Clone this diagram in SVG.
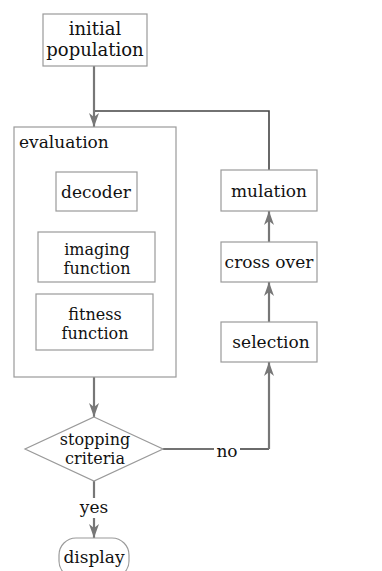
<svg xmlns="http://www.w3.org/2000/svg" width="382" height="571" viewBox="0 0 382 571">
<defs>
<style>
.box{fill:#fff;stroke:#9a9a9a;stroke-width:1.2}
.t{font-family:"DejaVu Serif","Liberation Serif",serif;font-size:17px;fill:#111;text-anchor:middle}
.t2{font-size:16px}
.arr{fill:none;stroke:#777;stroke-width:2.2}
.fb{fill:none;stroke:#444;stroke-width:1.6}
</style>
<marker id="ah" markerUnits="userSpaceOnUse" markerWidth="14" markerHeight="10" refX="14" refY="5" orient="auto">
<path d="M0,0 L14,5 L0,10 L4,5 z" fill="#777"/>
</marker>
</defs>
<rect width="382" height="571" fill="#fff"/>
<g id="connectors">
<path class="arr" d="M94,66 V127" marker-end="url(#ah)"/>
<path class="fb" d="M95,111 H269 V170"/>
<path class="arr" d="M94,377 V417" marker-end="url(#ah)"/>
<path class="arr" d="M269,242 V211" marker-end="url(#ah)"/>
<path class="arr" d="M269,322 V282" marker-end="url(#ah)"/>
<path class="fb" d="M163,449 H214"/>
<path class="fb" d="M240,449 H269"/>
<path class="arr" d="M269,449 V362" marker-end="url(#ah)"/>
<path class="arr" d="M94,481 V498"/>
<path class="arr" d="M94,518 V538" marker-end="url(#ah)"/>
<text class="t" x="227" y="457">no</text>
<text class="t" x="94" y="513">yes</text>
</g>
<g id="initial">
<rect class="box" x="43" y="14" width="104" height="52"/>
<text class="t" x="95" y="35" style="font-size:18px">initial</text>
<text class="t" x="95" y="56" style="font-size:18px">population</text>
</g>
<g id="evaluation">
<rect class="box" x="14" y="127" width="162" height="250"/>
<text class="t" x="19" y="148" style="text-anchor:start">evaluation</text>
</g>
<g id="decoder">
<rect class="box" x="56" y="172" width="81" height="39"/>
<text class="t" x="96" y="198">decoder</text>
</g>
<g id="imaging">
<rect class="box" x="38" y="232" width="117" height="50"/>
<text class="t t2" x="97" y="255">imaging</text>
<text class="t t2" x="97" y="274">function</text>
</g>
<g id="fitness">
<rect class="box" x="36" y="294" width="117" height="56"/>
<text class="t t2" x="95" y="320">fitness</text>
<text class="t t2" x="95" y="339">function</text>
</g>
<g id="mulation">
<rect class="box" x="221" y="170" width="96" height="41"/>
<text class="t" x="269" y="197">mulation</text>
</g>
<g id="crossover">
<rect class="box" x="221" y="242" width="96" height="40"/>
<text class="t" x="269" y="268">cross over</text>
</g>
<g id="selection">
<rect class="box" x="221" y="322" width="96" height="40"/>
<text class="t" x="271" y="348">selection</text>
</g>
<g id="stopping">
<path class="box" d="M94,417 L163,449 L94,481 L25,449 z"/>
<text class="t t2" x="95" y="445">stopping</text>
<text class="t t2" x="95" y="464">criteria</text>
</g>
<g id="display">
<rect class="box" x="59" y="538" width="70" height="40" rx="17"/>
<text class="t" x="94" y="563">display</text>
</g>
</svg>
